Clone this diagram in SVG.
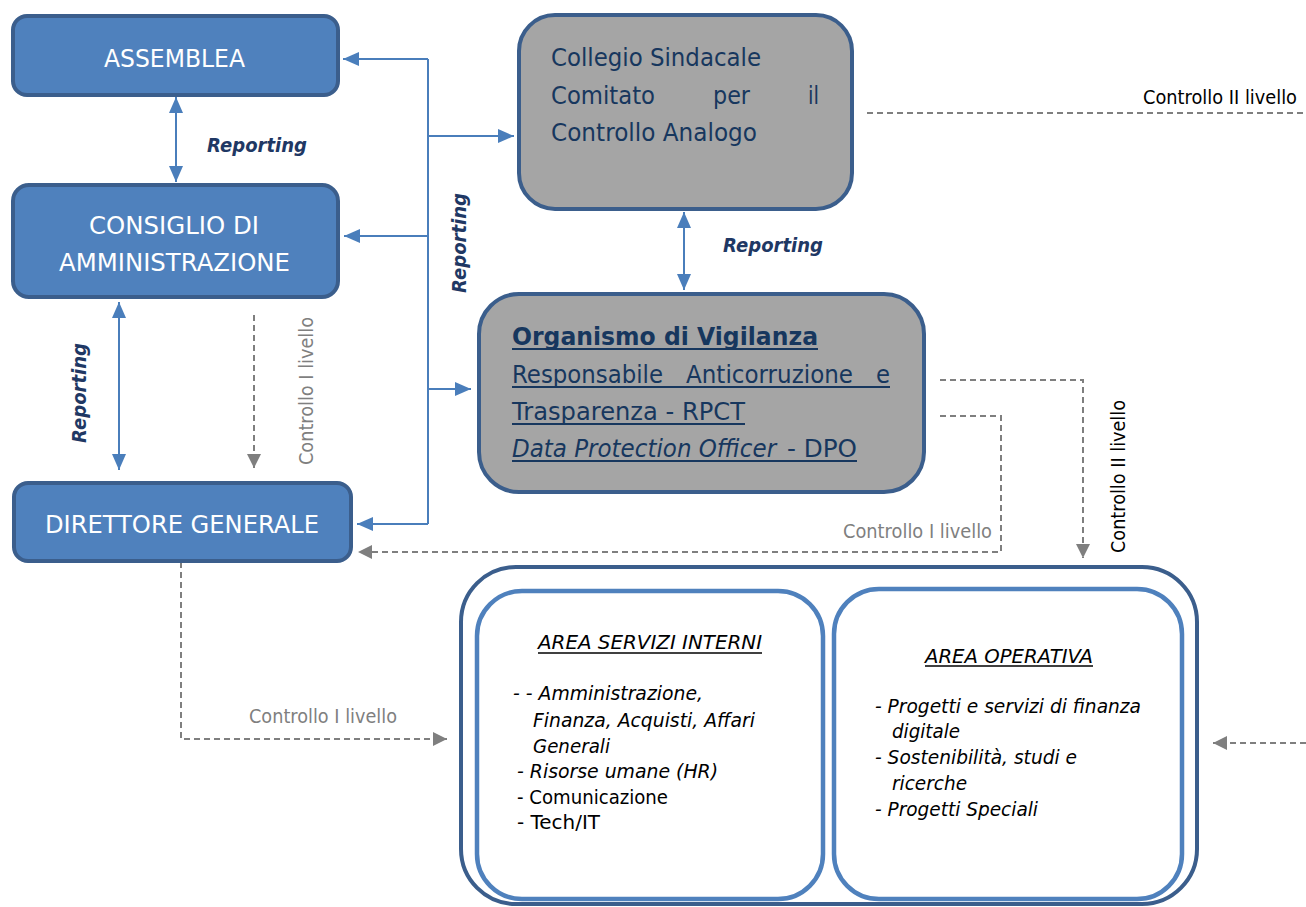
<svg xmlns="http://www.w3.org/2000/svg" width="1306" height="907" viewBox="0 0 1306 907">
<style>
.bb{fill:#4f81bd;stroke:#3b5e8c;stroke-width:4}
.gb{fill:#a5a5a5;stroke:#3b5e8c;stroke-width:4}
.ob{fill:#fff;stroke:#3b5e8c;stroke-width:4}
.ib{fill:#fff;stroke:#4f81bd;stroke-width:4.5}
.wt{font-family:"DejaVu Sans",Verdana,sans-serif;font-size:25px;fill:#fff}
.nt{font-family:"DejaVu Sans",Verdana,sans-serif;font-size:25px;fill:#17375e}
.rep{font-family:"DejaVu Sans",Verdana,sans-serif;font-size:19px;font-weight:bold;font-style:italic;fill:#1f3864}
.cg{font-family:"DejaVu Sans",Verdana,sans-serif;font-size:19px;fill:#7f7f7f}
.ck{font-family:"DejaVu Sans",Verdana,sans-serif;font-size:19px;fill:#000}
.at{font-family:"DejaVu Sans",Verdana,sans-serif;font-size:20px;fill:#000}
.it{font-style:italic}
.bl{fill:none;stroke:#4a7ebb;stroke-width:2}
.gd{fill:none;stroke:#7f7f7f;stroke-width:2;stroke-dasharray:6 4}
.ul{stroke:#17375e;stroke-width:2}
.uk{stroke:#000;stroke-width:1.5}
</style>
<defs>
<marker id="ab" markerUnits="userSpaceOnUse" markerWidth="16" markerHeight="14" refX="16" refY="7" orient="auto-start-reverse" viewBox="0 0 16 14"><path d="M0,0 L16,7 L0,14 z" fill="#4a7ebb"/></marker>
<marker id="ag" markerUnits="userSpaceOnUse" markerWidth="14" markerHeight="14" refX="14" refY="7" orient="auto-start-reverse" viewBox="0 0 14 14"><path d="M0,0 L14,7 L0,14 z" fill="#7f7f7f"/></marker>
</defs>

<g id="connectors">
<path class="bl" d="M176,97 L176,182" marker-start="url(#ab)" marker-end="url(#ab)"/>
<path class="bl" d="M119,302 L119,470" marker-start="url(#ab)" marker-end="url(#ab)"/>
<path class="bl" d="M684,212 L684,290" marker-start="url(#ab)" marker-end="url(#ab)"/>
<path class="bl" d="M428,59 L428,524"/>
<path class="bl" d="M428,59 L343,59" marker-end="url(#ab)"/>
<path class="bl" d="M428,136 L514,136" marker-end="url(#ab)"/>
<path class="bl" d="M428,236 L344,236" marker-end="url(#ab)"/>
<path class="bl" d="M428,389 L471,389" marker-end="url(#ab)"/>
<path class="bl" d="M428,524 L357,524" marker-end="url(#ab)"/>
<path class="gd" d="M254,315 L254,468" marker-end="url(#ag)"/>
<path class="gd" d="M867,113 L1306,113"/>
<path class="gd" d="M940,380 L1083,380 L1083,558" marker-end="url(#ag)"/>
<path class="gd" d="M940,416 L1001,416 L1001,552 L358,552" marker-end="url(#ag)"/>
<path class="gd" d="M181,562 L181,739 L447,739" marker-end="url(#ag)"/>
<path class="gd" d="M1306,743 L1213,743" marker-end="url(#ag)"/>
<text class="rep" x="207" y="152" textLength="100" lengthAdjust="spacingAndGlyphs">Reporting</text>
<text class="rep" x="723" y="252" textLength="100" lengthAdjust="spacingAndGlyphs">Reporting</text>
<text class="rep" transform="translate(466,293) rotate(-90)" x="0" y="0" textLength="100" lengthAdjust="spacingAndGlyphs">Reporting</text>
<text class="rep" transform="translate(86,443) rotate(-90)" x="0" y="0" textLength="100" lengthAdjust="spacingAndGlyphs">Reporting</text>
<text class="cg" transform="translate(313,465) rotate(-90)" x="0" y="0" textLength="148" lengthAdjust="spacingAndGlyphs">Controllo I livello</text>
<text class="ck" transform="translate(1125,553) rotate(-90)" x="0" y="0" textLength="153" lengthAdjust="spacingAndGlyphs">Controllo II livello</text>
<text class="ck" x="1143" y="104" textLength="154" lengthAdjust="spacingAndGlyphs">Controllo II livello</text>
<text class="cg" x="843" y="538" textLength="149" lengthAdjust="spacingAndGlyphs">Controllo I livello</text>
<text class="cg" x="249" y="723" textLength="148" lengthAdjust="spacingAndGlyphs">Controllo I livello</text>
</g>

<g id="assemblea">
<rect class="bb" x="13" y="16" width="325" height="79" rx="14"/>
<text class="wt" x="104" y="67" textLength="141" lengthAdjust="spacingAndGlyphs">ASSEMBLEA</text>
</g>

<g id="consiglio">
<rect class="bb" x="13" y="185" width="325" height="112" rx="16"/>
<text class="wt" x="89" y="234" textLength="170" lengthAdjust="spacingAndGlyphs">CONSIGLIO DI</text>
<text class="wt" x="59" y="271" textLength="231" lengthAdjust="spacingAndGlyphs">AMMINISTRAZIONE</text>
</g>

<g id="direttore">
<rect class="bb" x="14" y="483" width="337" height="78" rx="14"/>
<text class="wt" x="45" y="533" textLength="274" lengthAdjust="spacingAndGlyphs">DIRETTORE GENERALE</text>
</g>

<g id="collegio">
<rect class="gb" x="519" y="15" width="333" height="194" rx="36"/>
<text class="nt" x="551" y="66" textLength="210" lengthAdjust="spacingAndGlyphs">Collegio Sindacale</text>
<text class="nt" x="551" y="104" textLength="104" lengthAdjust="spacingAndGlyphs">Comitato</text>
<text class="nt" x="713" y="104" textLength="37" lengthAdjust="spacingAndGlyphs">per</text>
<text class="nt" x="808" y="104" textLength="11" lengthAdjust="spacingAndGlyphs">il</text>
<text class="nt" x="551" y="141" textLength="206" lengthAdjust="spacingAndGlyphs">Controllo Analogo</text>
</g>

<g id="odv">
<rect class="gb" x="479" y="294" width="445" height="198" rx="40"/>
<text class="nt" x="512" y="345" font-weight="bold" textLength="306" lengthAdjust="spacingAndGlyphs">Organismo di Vigilanza</text>
<text class="nt" x="512" y="383" textLength="151" lengthAdjust="spacingAndGlyphs">Responsabile</text>
<text class="nt" x="686" y="383" textLength="167" lengthAdjust="spacingAndGlyphs">Anticorruzione</text>
<text class="nt" x="876" y="383" textLength="14" lengthAdjust="spacingAndGlyphs">e</text>
<text class="nt" x="512" y="420" textLength="233" lengthAdjust="spacingAndGlyphs">Trasparenza - RPCT</text>
<text class="nt it" transform="translate(512,457) scale(0.92,1)" x="0" y="0">Data Protection Officer</text>
<text class="nt" x="787" y="457" textLength="70" lengthAdjust="spacingAndGlyphs">- DPO</text>
<line class="ul" x1="512" y1="349" x2="818" y2="349"/>
<line class="ul" x1="512" y1="387" x2="890" y2="387"/>
<line class="ul" x1="512" y1="424" x2="745" y2="424"/>
<line class="ul" x1="512" y1="461" x2="857" y2="461"/>
</g>

<g id="aree">
<rect class="ob" x="461" y="567" width="736" height="337" rx="55"/>
</g>

<g id="area-servizi-interni">
<rect class="ib" x="477" y="591" width="346" height="308" rx="45"/>
<text class="at it" x="538" y="649" textLength="224" lengthAdjust="spacingAndGlyphs">AREA SERVIZI INTERNI</text>
<line class="uk" x1="538" y1="653" x2="762" y2="653"/>
<text class="at it" x="513" y="700" textLength="190" lengthAdjust="spacingAndGlyphs">- - Amministrazione,</text>
<text class="at it" x="533" y="727" textLength="222" lengthAdjust="spacingAndGlyphs">Finanza, Acquisti, Affari</text>
<text class="at it" x="533" y="753" textLength="77" lengthAdjust="spacingAndGlyphs">Generali</text>
<text class="at it" x="517" y="778" textLength="201" lengthAdjust="spacingAndGlyphs">- Risorse umane (HR)</text>
<text class="at" x="517" y="804" textLength="151" lengthAdjust="spacingAndGlyphs">- Comunicazione</text>
<text class="at" x="517" y="829" textLength="83" lengthAdjust="spacingAndGlyphs">- Tech/IT</text>
</g>

<g id="area-operativa">
<rect class="ib" x="834" y="589" width="348" height="310" rx="45"/>
<text class="at it" x="925" y="663" textLength="168" lengthAdjust="spacingAndGlyphs">AREA OPERATIVA</text>
<line class="uk" x1="925" y1="666" x2="1093" y2="666"/>
<text class="at it" x="875" y="713" textLength="266" lengthAdjust="spacingAndGlyphs">- Progetti e servizi di finanza</text>
<text class="at it" x="892" y="738" textLength="68" lengthAdjust="spacingAndGlyphs">digitale</text>
<text class="at it" x="875" y="764" textLength="202" lengthAdjust="spacingAndGlyphs">- Sostenibilità, studi e</text>
<text class="at it" x="892" y="790" textLength="75" lengthAdjust="spacingAndGlyphs">ricerche</text>
<text class="at it" x="875" y="816" textLength="163" lengthAdjust="spacingAndGlyphs">- Progetti Speciali</text>
</g>
</svg>
